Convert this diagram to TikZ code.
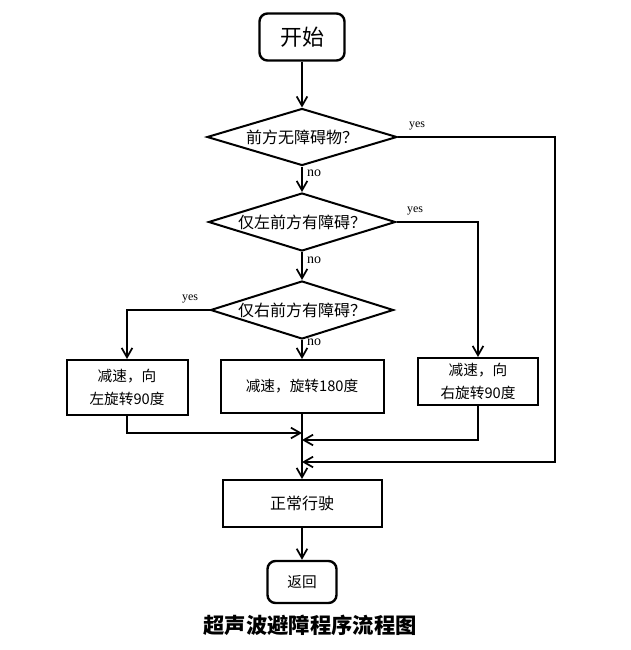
\documentclass[tikz,border=0pt]{standalone}
\usepackage{fontspec}
\setmainfont{Liberation Serif}
\newfontfamily\cjk{Noto Sans CJK SC}
\usetikzlibrary{shapes.geometric,arrows.meta}

\tikzset{every picture/.style={line width=1.5pt},
	flowarrow/.style={-{Straight Barb[length=7pt,width=8pt,line width=1.3pt]}},
	termbox/.style={draw, rectangle, rounded corners=6pt, line width=1.8pt, inner sep=0pt, font=\cjk},
	procbox/.style={draw, rectangle, inner sep=0pt, align=center, font=\cjk\fontsize{11}{17}\selectfont},
	decbox/.style={draw, diamond, inner sep=0pt, aspect=3.3, font=\cjk\fontsize{12}{14}\selectfont},
	yeslbl/.style={font=\fontsize{9}{10}\selectfont, inner sep=0pt},
	nolbl/.style={font=\fontsize{10.5}{12}\selectfont, inner sep=0pt, anchor=north west}}

\begin{document}
\begin{tikzpicture}[x=0.75pt,y=0.75pt,yscale=-1,xscale=1]
	\useasboundingbox (0,0) rectangle (631,650);

	% Terminal: start
	\node[termbox, minimum width=63.75pt, minimum height=35.25pt, font=\cjk\fontsize{16.5}{18}\selectfont] (start) at (302,37) {开始};
	% Decisions
	\node[decbox, minimum width=142.5pt, minimum height=42.75pt] (front) at (302,137) {前方无障碍物？};
	\node[decbox, minimum width=140.25pt, minimum height=43.5pt] (left) at (302,222) {仅左前方有障碍？};
	\node[decbox, minimum width=137.25pt, minimum height=43.5pt] (right) at (302,310) {仅右前方有障碍？};
	% Processes
	\node[procbox, minimum width=90.75pt, minimum height=41.25pt] (turnleft) at (127,387.5) {减速，向\\左旋转90度};
	\node[procbox, minimum width=122.25pt, minimum height=39.75pt] (turnback) at (302,386.5) {减速，旋转180度};
	\node[procbox, minimum width=90pt, minimum height=35.25pt] (turnright) at (478,381.5) {减速，向\\右旋转90度};
	\node[procbox, minimum width=119.25pt, minimum height=35.25pt, font=\cjk\fontsize{12}{14}\selectfont] (drive) at (302,503.5) {正常行驶};
	% Terminal: return
	\node[termbox, minimum width=51.75pt, minimum height=31.5pt, font=\cjk\fontsize{11}{13}\selectfont] (back) at (302,582) {返回};

	% Merge points
	\coordinate (mleft) at (302,433);
	\coordinate (mright) at (302,440);
	\coordinate (mfree) at (302,462);
	\coordinate (cfree) at (555,462);

	% Connectors
	\draw[flowarrow] (start) -- (front);
	\draw[flowarrow] (front) -- (left);
	\draw[flowarrow] (left) -- (right);
	\draw[flowarrow] (right) -- (turnback);
	\draw[flowarrow] (front.east) -| (cfree) -- (mfree);
	\draw[flowarrow] (left.east) -| (turnright);
	\draw[flowarrow] (right.west) -| (turnleft);
	\draw[flowarrow] (turnleft.south) |- (mleft);
	\draw[flowarrow] (turnright.south) |- (mright);
	\draw[flowarrow] (turnback) -- (drive);
	\draw[flowarrow] (drive) -- (back);

	% Text Node
	\node[yeslbl] (yesfront) at (417,126) {yes};
	\node[yeslbl] (yesleft) at (415,211) {yes};
	\node[yeslbl] (yesright) at (190,299) {yes};
	\node[nolbl] (nofront) at (306,169) {no};
	\node[nolbl] (noleft) at (306,256) {no};
	\node[nolbl] (noright) at (306,338) {no};
	% Caption
	\node[font=\cjk\bfseries\fontsize{16}{18}\selectfont] (caption) at (310,625) {超声波避障程序流程图};

\end{tikzpicture}
\end{document}
